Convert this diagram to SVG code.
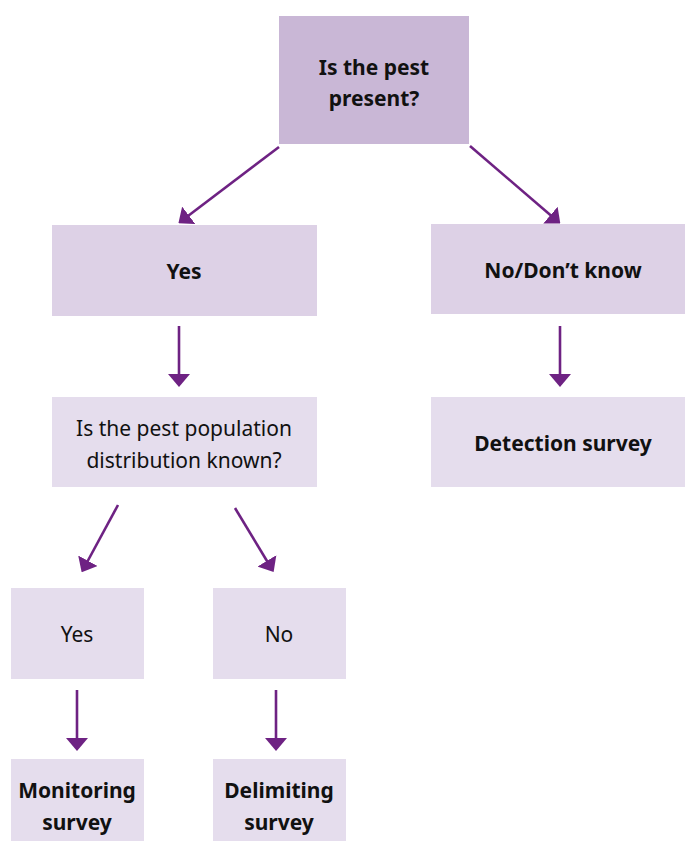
<svg xmlns="http://www.w3.org/2000/svg" width="685" height="841" viewBox="0 0 685 841">
<style>
text{font-family:"Noto Sans","Open Sans","Liberation Sans",sans-serif;font-size:21px;fill:#111;text-anchor:middle}
.b{font-weight:bold}
.c1{fill:#c9b7d6}
.c2{fill:#ddd1e6}
.c3{fill:#e5dded}
.con line{stroke:#6e2283;stroke-width:2.6;fill:none;marker-end:url(#ah)}
</style>
<defs>
<marker id="ah" markerUnits="userSpaceOnUse" markerWidth="13" markerHeight="22" refX="6" refY="11" orient="auto">
<path d="M0,0 L13,11 L0,22 z" fill="#6e2283"/>
</marker>
</defs>
<rect width="685" height="841" fill="#fff"/>
<g id="n-present">
<rect class="c1" x="279" y="16" width="190" height="128"/>
<text class="b" x="374" y="75">Is the pest</text>
<text class="b" x="374" y="106">present?</text>
</g>
<g id="n-yes">
<rect class="c2" x="52" y="225" width="265" height="91"/>
<text class="b" x="184" y="279">Yes</text>
</g>
<g id="n-no">
<rect class="c2" x="431" y="224" width="254" height="90"/>
<text class="b" x="563" y="278">No/Don’t know</text>
</g>
<g id="n-dist">
<rect class="c3" x="52" y="397" width="265" height="90"/>
<text x="184" y="436">Is the pest population</text>
<text x="184" y="468">distribution known?</text>
</g>
<g id="n-detect">
<rect class="c3" x="431" y="397" width="254" height="90"/>
<text class="b" x="563" y="451">Detection survey</text>
</g>
<g id="n-yes2">
<rect class="c3" x="11" y="588" width="133" height="91"/>
<text x="77" y="642">Yes</text>
</g>
<g id="n-no2">
<rect class="c3" x="213" y="588" width="133" height="91"/>
<text x="279" y="642">No</text>
</g>
<g id="n-monitor">
<rect class="c3" x="11" y="759" width="133" height="82"/>
<text class="b" x="77" y="798">Monitoring</text>
<text class="b" x="77" y="830">survey</text>
</g>
<g id="n-delim">
<rect class="c3" x="213" y="759" width="133" height="82"/>
<text class="b" x="279" y="798">Delimiting</text>
<text class="b" x="279" y="830">survey</text>
</g>
<g id="connectors" class="con">
<line x1="279" y1="147" x2="184" y2="219"/>
<line x1="470" y1="146" x2="555" y2="219"/>
<line x1="179" y1="326" x2="179" y2="380"/>
<line x1="560" y1="326" x2="560" y2="380"/>
<line x1="118" y1="505" x2="85" y2="566"/>
<line x1="235" y1="508" x2="270" y2="566"/>
<line x1="77" y1="690" x2="77" y2="744"/>
<line x1="276" y1="690" x2="276" y2="744"/>
</g>
</svg>
